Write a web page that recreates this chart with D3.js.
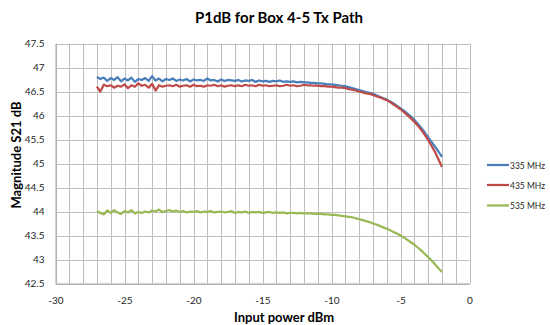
<!DOCTYPE html>
<html>
<head>
<meta charset="utf-8">
<script src="https://cdn.jsdelivr.net/npm/d3@7"></script>
<style>
  html, body { margin: 0; padding: 0; background: #fff; }
  svg { display: block; font-family: Lato, "Liberation Sans", sans-serif; }
</style>
</head>
<body>
<svg id="chart" width="550" height="325"></svg>
<script>
// ---- data ----
const inputPower = [
  -27, -26.75, -26.5, -26.25, -26, -25.75, -25.5, -25.25, -25, -24.75, -24.5, -24.25, -24, -23.75, -23.5, -23.25, -23, -22.75, -22.5, -22.25, -22,
  -21.75, -21.5, -21.25, -21, -20.75, -20.5, -20.25, -20, -19.75, -19.5, -19.25, -19, -18.75, -18.5, -18.25, -18, -17.75, -17.5, -17.25, -17,
  -16.75, -16.5, -16.25, -16, -15.75, -15.5, -15.25, -15, -14.75, -14.5, -14.25, -14, -13.75, -13.5, -13.25, -13, -12.75, -12.5, -12.25, -12,
  -11.75, -11.5, -11.25, -11, -10.75, -10.5, -10.25, -10, -9.75, -9.5, -9.25, -9, -8.75, -8.5, -8.25, -8, -7.75, -7.5, -7.25, -7,
  -6.75, -6.5, -6.25, -6, -5.75, -5.5, -5.25, -5, -4.75, -4.5, -4.25, -4, -3.75, -3.5, -3.25, -3, -2.75, -2.5, -2.25, -2
];
const s335 = [
  46.80, 46.76, 46.79, 46.72, 46.78, 46.74, 46.80, 46.71, 46.77, 46.73, 46.79, 46.70, 46.76, 46.74, 46.78, 46.72, 46.82, 46.73, 46.77, 46.71, 46.76,
  46.74, 46.77, 46.72, 46.75, 46.73, 46.76, 46.71, 46.75, 46.73, 46.74, 46.72, 46.77, 46.73, 46.74, 46.71, 46.75, 46.72, 46.74, 46.73, 46.72,
  46.74, 46.71, 46.73, 46.72, 46.74, 46.70, 46.73, 46.71, 46.72, 46.70, 46.72, 46.71, 46.73, 46.70, 46.71, 46.70, 46.71, 46.69, 46.70, 46.69,
  46.69, 46.68, 46.68, 46.67, 46.67, 46.66, 46.65, 46.65, 46.64, 46.63, 46.62, 46.61, 46.59, 46.57, 46.55, 46.53, 46.51, 46.49, 46.47, 46.45,
  46.42, 46.39, 46.36, 46.33, 46.29, 46.25, 46.20, 46.15, 46.10, 46.04, 45.98, 45.91, 45.83, 45.74, 45.65, 45.55, 45.45, 45.35, 45.25, 45.14
];
const s435 = [
  46.60, 46.50, 46.64, 46.61, 46.63, 46.58, 46.62, 46.60, 46.65, 46.57, 46.63, 46.60, 46.67, 46.62, 46.64, 46.58, 46.66, 46.52, 46.63, 46.60, 46.62,
  46.63, 46.61, 46.64, 46.60, 46.62, 46.63, 46.60, 46.64, 46.61, 46.62, 46.60, 46.63, 46.62, 46.64, 46.61, 46.63, 46.60, 46.62, 46.63, 46.61,
  46.63, 46.61, 46.64, 46.62, 46.63, 46.61, 46.64, 46.62, 46.63, 46.61, 46.62, 46.63, 46.61, 46.62, 46.64, 46.62, 46.63, 46.61, 46.62, 46.64,
  46.63, 46.63, 46.62, 46.62, 46.61, 46.61, 46.60, 46.60, 46.59, 46.58, 46.58, 46.57, 46.55, 46.54, 46.52, 46.50, 46.48, 46.46, 46.45, 46.43,
  46.40, 46.38, 46.35, 46.32, 46.28, 46.23, 46.18, 46.13, 46.07, 46.01, 45.94, 45.87, 45.79, 45.70, 45.60, 45.49, 45.37, 45.24, 45.09, 44.93
];
const s535 = [
  44.01, 43.97, 43.94, 44.02, 43.97, 44.03, 43.98, 43.95, 44.01, 43.98, 44.03, 43.96, 43.99, 43.97, 44.00, 43.98, 44.02, 44.00, 44.04, 43.99, 44.01,
  44.03, 44.00, 44.02, 43.99, 44.01, 43.98, 44.00, 43.99, 44.01, 43.98, 44.00, 43.99, 44.01, 43.98, 43.99, 44.00, 43.98, 43.99, 44.01, 43.97,
  43.99, 43.98, 44.00, 43.97, 43.99, 43.98, 43.99, 43.97, 43.98, 43.99, 43.97, 43.98, 43.97, 43.98, 43.96, 43.97, 43.97, 43.96, 43.97, 43.96,
  43.96, 43.96, 43.95, 43.95, 43.95, 43.94, 43.94, 43.93, 43.93, 43.92, 43.91, 43.90, 43.89, 43.88, 43.86, 43.84, 43.82, 43.80, 43.78, 43.75,
  43.73, 43.70, 43.67, 43.64, 43.61, 43.57, 43.54, 43.50, 43.46, 43.41, 43.36, 43.31, 43.25, 43.19, 43.12, 43.05, 42.98, 42.90, 42.82, 42.74
];
const seriesNames = ["335 MHz", "435 MHz", "535 MHz"];
const seriesColors = ["#4A7EBB", "#BE4B48", "#98B954"];
const xTicks = [-30, -25, -20, -15, -10, -5, 0];
const yTicks = [42.5, 43, 43.5, 44, 44.5, 45, 45.5, 46, 46.5, 47, 47.5];
const xGrid = d3.range(-30, 1, 1);
const title = "P1dB for Box 4-5 Tx Path";
const xTitle = "Input power dBm";
const yTitle = "Magnitude S21 dB";

// ---- chart ----
const svg = d3.select("#chart");
const L = 55.5, R = 469.5, T = 43.5, B = 283.5;
const x = d3.scaleLinear().domain([-30, 0]).range([L, R]);
const y = d3.scaleLinear().domain([42.5, 47.5]).range([B, T]);

// grid
svg.append("g").selectAll("line").data(xGrid).join("line")
  .attr("x1", d => Math.round(x(d)) + 0.5).attr("x2", d => Math.round(x(d)) + 0.5)
  .attr("y1", T).attr("y2", B)
  .attr("stroke", "#BEBEBE").attr("stroke-width", 1);
svg.append("g").selectAll("line").data(yTicks).join("line")
  .attr("x1", L).attr("x2", R)
  .attr("y1", d => Math.round(y(d)) + 0.5).attr("y2", d => Math.round(y(d)) + 0.5)
  .attr("stroke", "#BEBEBE").attr("stroke-width", 1);

// axes
const xAxis = svg.append("g").attr("transform", `translate(0,${B})`)
  .call(d3.axisBottom(x).tickValues(xTicks).tickSize(0).tickPadding(13).tickFormat(d => String(d)));
const yAxis = svg.append("g").attr("transform", `translate(${L},0)`)
  .call(d3.axisLeft(y).tickValues(yTicks).tickSize(0).tickPadding(11).tickFormat(d => String(d)));
[xAxis, yAxis].forEach(g => {
  g.select(".domain").attr("stroke", "#A6A6A6");
  g.selectAll("text").attr("fill", "#262626").style("font-size", "10px").style("font-family", "Lato, sans-serif");
});

// lines
const allSeries = [s335, s435, s535];
const line = d3.line().x(d => x(d[0])).y(d => y(d[1]));
allSeries.forEach((s, i) => {
  svg.append("path")
    .datum(inputPower.map((p, j) => [p, s[j]]))
    .attr("fill", "none")
    .attr("stroke", seriesColors[i])
    .attr("stroke-width", 2.25)
    .attr("stroke-linejoin", "round")
    .attr("d", line);
});

// title & axis titles
svg.append("text").attr("x", 279).attr("y", 23).attr("text-anchor", "middle")
  .style("font-size", "15px").style("font-weight", "bold").attr("fill", "#000").text(title);
svg.append("text").attr("x", 284).attr("y", 322).attr("text-anchor", "middle")
  .style("font-size", "13px").style("font-weight", "bold").attr("fill", "#000").text(xTitle);
svg.append("text").attr("transform", "translate(21,155) rotate(-90)").attr("text-anchor", "middle")
  .style("font-size", "13px").style("font-weight", "bold").attr("fill", "#000").text(yTitle);

// legend
const legY = [165, 185, 205.5];
const leg = svg.append("g");
seriesNames.forEach((n, i) => {
  leg.append("line").attr("x1", 487).attr("x2", 509).attr("y1", legY[i]).attr("y2", legY[i])
    .attr("stroke", seriesColors[i]).attr("stroke-width", 2.25);
  leg.append("text").attr("x", 510).attr("y", legY[i] + 3.5)
    .style("font-size", "9.5px").attr("fill", "#262626")
    .attr("textLength", 35).attr("lengthAdjust", "spacingAndGlyphs").text(n);
});
</script>
</body>
</html>
